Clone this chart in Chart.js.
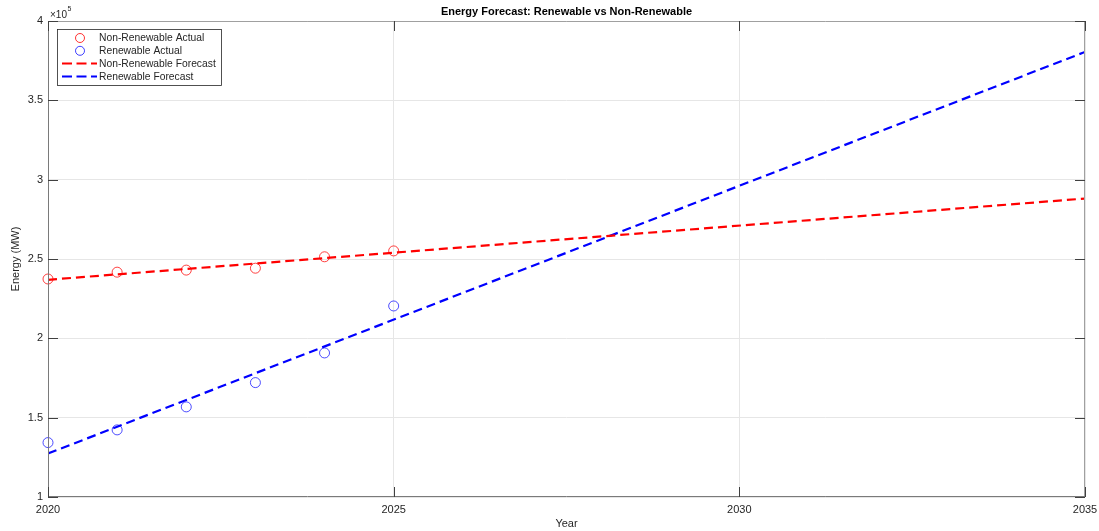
<!DOCTYPE html>
<html lang="en">

<head>
    <meta charset="UTF-8">
    <title>Energy Forecast</title>
    <script src="https://cdn.jsdelivr.net/npm/chart.js"></script>
    <style>
        body {
            margin: 0;
            padding: 0;
            background-color: #ffffff;
        }

        .chart-wrap {
            width: 1099px;
            height: 531px;
        }
    </style>
</head>

<body>
    <div class="chart-wrap">
        <canvas id="energyChart" width="1099" height="531"></canvas>
    </div>

    <script>
        // Data
        const years = [2020, 2021, 2022, 2023, 2024, 2025];
        const nonRenewableActual = [237400, 241700, 243000, 244200, 251400, 255100];
        const renewableActual = [134300, 142300, 156800, 172100, 190800, 220400];

        const forecastYears = [2020, 2035];
        const nonRenewableForecast = [236900, 288100];
        const renewableForecast = [127400, 380500];

        const xTicks = [2020, 2025, 2030, 2035];
        const yTicks = [100000, 150000, 200000, 250000, 300000, 350000, 400000];

        const toPoints = (xs, ys) => xs.map((x, i) => ({ x: x, y: ys[i] }));

        const FONT = "'Liberation Sans', Arial, sans-serif";
        const TEXT = '#262626';

        // title, x10^5 label, inward ticks and the legend box
        const decorations = {
            id: 'decorations',
            afterDraw(chart) {
                const ctx = chart.ctx;
                const area = chart.chartArea;
                const xs = chart.scales.x;
                const ys = chart.scales.y;
                ctx.save();

                // frame
                ctx.lineWidth = 1;
                ctx.strokeStyle = '#a0a0a0';
                ctx.beginPath();
                ctx.moveTo(area.left, area.top + 0.5);
                ctx.lineTo(area.right - 0.5, area.top + 0.5);
                ctx.lineTo(area.right - 0.5, area.bottom);
                ctx.stroke();
                ctx.strokeStyle = '#7a7a7a';
                ctx.beginPath();
                ctx.moveTo(area.left + 0.5, area.top);
                ctx.lineTo(area.left + 0.5, area.bottom - 0.5);
                ctx.lineTo(area.right, area.bottom - 0.5);
                ctx.stroke();

                // inward ticks
                ctx.strokeStyle = '#404040';
                xTicks.forEach(v => {
                    const px = Math.round(xs.getPixelForValue(v)) + 0.5;
                    ctx.beginPath();
                    ctx.moveTo(px, area.bottom);
                    ctx.lineTo(px, area.bottom - 10);
                    ctx.moveTo(px, area.top);
                    ctx.lineTo(px, area.top + 10);
                    ctx.stroke();
                });
                yTicks.forEach(v => {
                    const py = Math.round(ys.getPixelForValue(v)) + 0.5;
                    ctx.beginPath();
                    ctx.moveTo(area.left, py);
                    ctx.lineTo(area.left + 10, py);
                    ctx.moveTo(area.right, py);
                    ctx.lineTo(area.right - 10, py);
                    ctx.stroke();
                });

                // title
                ctx.fillStyle = '#000000';
                ctx.font = 'bold 11px ' + FONT;
                ctx.textAlign = 'center';
                ctx.textBaseline = 'middle';
                ctx.fillText('Energy Forecast: Renewable vs Non-Renewable', (area.left + area.right) / 2, 12);

                // exponent label
                ctx.fillStyle = TEXT;
                ctx.textAlign = 'left';
                ctx.font = '10px ' + FONT;
                const base = '\u00d710';
                ctx.fillText(base, area.left + 2, 15);
                const bw = ctx.measureText(base).width;
                ctx.font = '7px ' + FONT;
                ctx.fillText('5', area.left + 2 + bw + 0.5, 9.5);

                // legend
                const lx = 57, ly = 29, lw = 164, lh = 56;
                ctx.fillStyle = '#ffffff';
                ctx.fillRect(lx, ly, lw, lh);
                ctx.strokeStyle = '#262626';
                ctx.lineWidth = 0.8;
                ctx.strokeRect(lx + 0.5, ly + 0.5, lw, lh);

                const items = [
                    { label: 'Non-Renewable Actual', color: 'rgba(255,0,0,0.8)', kind: 'marker' },
                    { label: 'Renewable Actual', color: 'rgba(0,0,255,0.75)', kind: 'marker' },
                    { label: 'Non-Renewable Forecast', color: '#ff0000', kind: 'line' },
                    { label: 'Renewable Forecast', color: '#0000ff', kind: 'line' }
                ];
                items.forEach((it, i) => {
                    const cy = ly + 9 + i * 12.8;
                    if (it.kind === 'marker') {
                        ctx.strokeStyle = it.color;
                        ctx.lineWidth = 1;
                        ctx.beginPath();
                        ctx.arc(80, cy, 4.5, 0, Math.PI * 2);
                        ctx.stroke();
                    } else {
                        ctx.strokeStyle = it.color;
                        ctx.lineWidth = 2;
                        ctx.setLineDash([10, 4.5]);
                        ctx.beginPath();
                        ctx.moveTo(62, cy);
                        ctx.lineTo(97, cy);
                        ctx.stroke();
                        ctx.setLineDash([]);
                    }
                    ctx.fillStyle = TEXT;
                    ctx.font = '10.3px ' + FONT;
                    ctx.textAlign = 'left';
                    ctx.fillText(it.label, 99, cy + 0.5);
                });

                ctx.restore();
            }
        };

        const ctxEnergy = document.getElementById('energyChart').getContext('2d');
        const energyChart = new Chart(ctxEnergy, {
            type: 'scatter',
            data: {
                datasets: [{
                    label: 'Non-Renewable Actual',
                    data: toPoints(years, nonRenewableActual),
                    showLine: false,
                    clip: false,
                    pointRadius: 5,
                    pointBorderWidth: 1,
                    pointBackgroundColor: 'rgba(0,0,0,0)',
                    pointBorderColor: 'rgba(255,0,0,0.75)'
                }, {
                    label: 'Renewable Actual',
                    data: toPoints(years, renewableActual),
                    showLine: false,
                    clip: false,
                    pointRadius: 5,
                    pointBorderWidth: 1,
                    pointBackgroundColor: 'rgba(0,0,0,0)',
                    pointBorderColor: 'rgba(0,0,255,0.7)'
                }, {
                    label: 'Non-Renewable Forecast',
                    data: toPoints(forecastYears, nonRenewableForecast),
                    showLine: true,
                    pointRadius: 0,
                    borderColor: '#ff0000',
                    borderWidth: 2.2,
                    borderDash: [9, 5]
                }, {
                    label: 'Renewable Forecast',
                    data: toPoints(forecastYears, renewableForecast),
                    showLine: true,
                    pointRadius: 0,
                    borderColor: '#0000ff',
                    borderWidth: 2.2,
                    borderDash: [9, 5]
                }]
            },
            options: {
                responsive: false,
                animation: false,
                layout: {
                    padding: { top: 21, right: 14, left: 0, bottom: 0 }
                },
                plugins: {
                    legend: { display: false },
                    title: { display: false },
                    tooltip: { enabled: false }
                },
                scales: {
                    x: {
                        type: 'linear',
                        min: 2020,
                        max: 2035,
                        afterBuildTicks: scale => {
                            scale.ticks = xTicks.map(v => ({ value: v }));
                        },
                        afterFit: scale => {
                            scale.height = 34;
                            scale.paddingLeft = 0;
                            scale.paddingRight = 0;
                        },
                        grid: {
                            color: '#e6e6e6',
                            drawTicks: false
                        },
                        border: { display: false },
                        ticks: {
                            color: TEXT,
                            font: { family: FONT, size: 11 },
                            padding: 6,
                            callback: v => String(v)
                        },
                        title: {
                            display: true,
                            text: 'Year',
                            color: TEXT,
                            font: { family: FONT, size: 11 },
                            padding: { top: 0, bottom: 0 }
                        }
                    },
                    y: {
                        min: 100000,
                        max: 400000,
                        afterBuildTicks: scale => {
                            scale.ticks = yTicks.map(v => ({ value: v }));
                        },
                        afterFit: scale => {
                            scale.width = 48;
                            scale.paddingTop = 0;
                            scale.paddingBottom = 0;
                        },
                        grid: {
                            color: '#e6e6e6',
                            drawTicks: false
                        },
                        border: { display: false },
                        ticks: {
                            color: TEXT,
                            font: { family: FONT, size: 11 },
                            padding: 5,
                            callback: v => String(v / 100000)
                        },
                        title: {
                            display: true,
                            text: 'Energy (MW)',
                            color: TEXT,
                            font: { family: FONT, size: 11 },
                            padding: { top: 9, bottom: 0 }
                        }
                    }
                }
            },
            plugins: [decorations]
        });
    </script>
</body>

</html>
